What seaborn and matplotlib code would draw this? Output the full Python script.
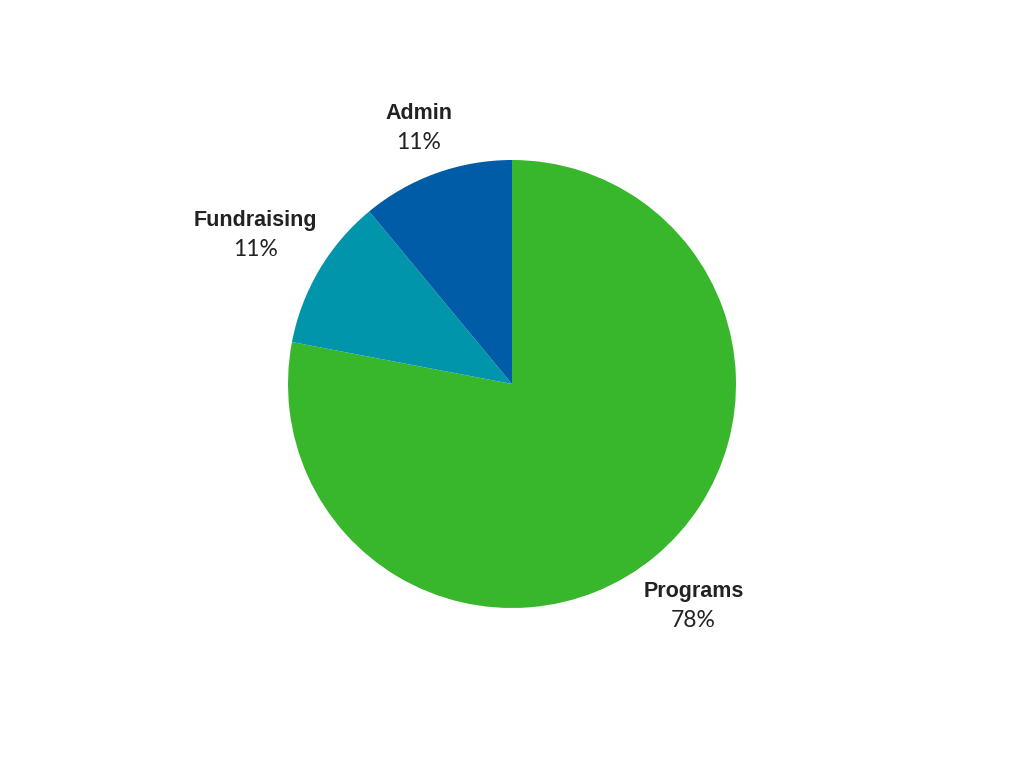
import numpy as np
import matplotlib.pyplot as plt
import seaborn as sns

# spending breakdown
labels = ['Programs', 'Fundraising', 'Admin']
shares = [78, 11, 11]
colors = ['#38b72c', '#0095ab', '#005ca6']
# how far out each label sits (in pie radii)
label_dist = [1.27, 1.33, 1.23]

sns.set_theme(style='white')
plt.rcParams['font.family'] = ['Liberation Sans', 'DejaVu Sans']

fig = plt.figure(figsize=(10.24, 7.68), dpi=100)
ax = fig.add_axes([0, 0, 1, 1])

wedges, _ = ax.pie(shares, colors=colors, startangle=90, counterclock=False,
                   radius=1, wedgeprops=dict(linewidth=0))

# labels: bold name on top, percent underneath
for w, lab, val, d in zip(wedges, labels, shares, label_dist):
    ang = np.deg2rad((w.theta1 + w.theta2) / 2)
    x, y = d * np.cos(ang), d * np.sin(ang)
    ax.text(x, y + 0.052, lab, ha='center', va='center', fontsize=15.5,
            fontweight='bold', color='#222222')
    ax.text(x, y - 0.078, f'{val}%', ha='center', va='center', fontsize=16.5,
            color='#222222', family=['Lato', 'DejaVu Sans'])

# 1 radius = 224 px, centre of the figure
ax.set_xlim(-512 / 224, 512 / 224)
ax.set_ylim(-384 / 224, 384 / 224)
ax.set_aspect('equal')
ax.axis('off')

fig.savefig('out.png', dpi=100)
